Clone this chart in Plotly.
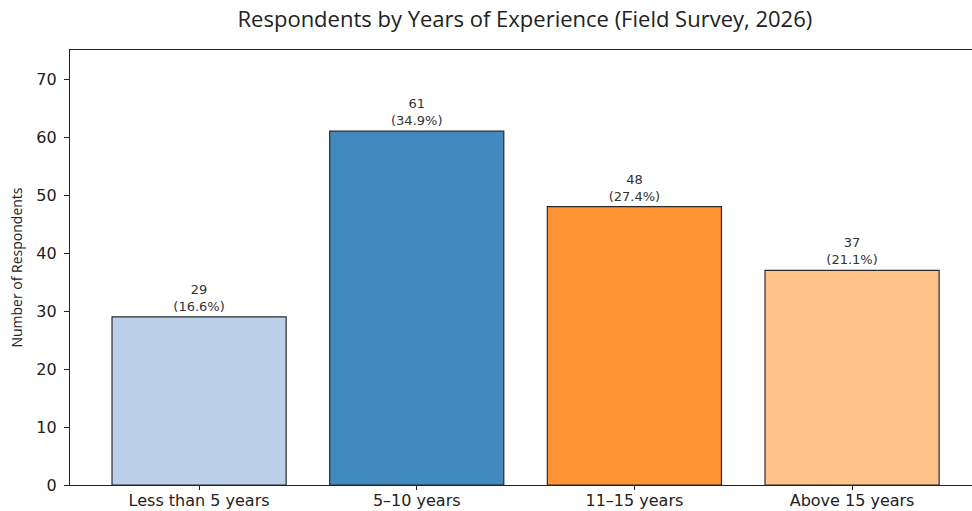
import plotly.graph_objects as go

categories = ["Less than 5 years", "5–10 years", "11–15 years", "Above 15 years"]
respondents = [29, 61, 48, 37]
bar_colors = ["#bacfea", "#4189be", "#ff9233", "#ffc38a"]

total = sum(respondents)
labels = [f"{v}<br>({v / total * 100:.1f}%)" for v in respondents]

TICK_FONT = "DejaVu Sans"
TEXT_FONT = "Open Sans"

fig = go.Figure(
    go.Bar(
        x=list(range(len(categories))),
        y=respondents,
        width=0.8,
        marker=dict(color=bar_colors, line=dict(color="#2b2b2b", width=1.2)),
        text=labels,
        textposition="outside",
        textfont=dict(size=13, color="#333333", family=TICK_FONT),
        cliponaxis=False,
    )
)

fig.update_layout(
    width=972,
    height=511,
    margin=dict(l=70, r=0, t=50, b=26),
    plot_bgcolor="white",
    paper_bgcolor="white",
    font=dict(family=TEXT_FONT, color="#222222"),
    title=dict(
        text="Respondents by Years of Experience (Field Survey, 2026)",
        x=0.54,
        xanchor="center",
        y=0.963,
        yanchor="middle",
        font=dict(size=22, family=TEXT_FONT, color="#222222"),
    ),
    showlegend=False,
)

fig.update_xaxes(
    range=[-0.593, 3.551],
    tickmode="array",
    tickvals=list(range(len(categories))),
    ticktext=categories,
    ticks="outside",
    ticklen=4,
    tickcolor="#222222",
    tickfont=dict(size=16, family=TICK_FONT, color="#222222"),
    ticklabelstandoff=-3,
    showline=True,
    linecolor="#222222",
    linewidth=1.2,
    mirror=True,
    showgrid=False,
    zeroline=False,
    automargin=False,
)

fig.update_yaxes(
    range=[0, 75],
    tickvals=[0, 10, 20, 30, 40, 50, 60, 70],
    ticks="outside",
    ticklen=5,
    tickcolor="#222222",
    tickfont=dict(size=16, family=TICK_FONT, color="#222222"),
    ticklabelstandoff=4,
    showline=True,
    linecolor="#222222",
    linewidth=1.2,
    showgrid=False,
    zeroline=False,
    automargin=False,
    title=dict(text="Number of Respondents", font=dict(size=14, family=TEXT_FONT, color="#222222"), standoff=10),
)

fig.write_html("out.html")
